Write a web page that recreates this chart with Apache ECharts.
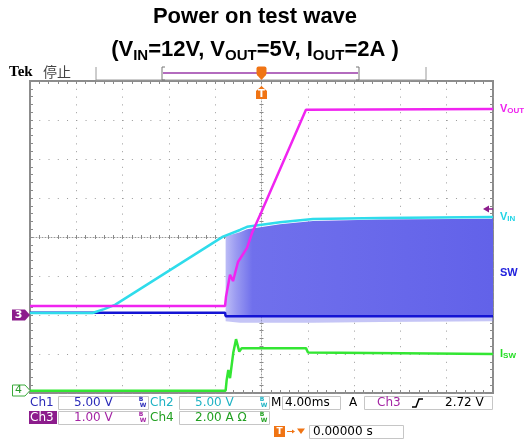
<!DOCTYPE html>
<html>
<head>
<meta charset="utf-8">
<script src="https://cdn.jsdelivr.net/npm/echarts@6/dist/echarts.min.js"></script>
<style>
html, body { margin: 0; padding: 0; background: #fff; }
#main { width: 524px; height: 441px; }
</style>
</head>
<body>
<div id="main"></div>
<script>
// x: time in ms (4 ms/div, trigger at 0), y: screen divisions from the bottom (0..8)
const timeMin = -20
const timeMax = 20
const timeStep = 4
const divMin = 0
const divMax = 8

// Ch3 - Vout (magenta)
const vout = [
  [-20, 2.23], [-3.15, 2.23], [-3.07, 2.46], [-2.72, 3.03], [-2.46, 2.87],
  [-2.03, 3.36], [-1.25, 3.72], [-0.82, 4.1], [0, 4.65], [3.84, 7.26], [20, 7.28],
]
// Ch2 - Vin (cyan)
const vin = [
  [-20, 2.05], [-14.6, 2.05], [-13.6, 2.15], [-12.66, 2.26], [-3.33, 4.01],
  [-1.86, 4.18], [-1.25, 4.26], [1.6, 4.38], [4.45, 4.46], [10.24, 4.49], [20, 4.51],
]
// Ch1 - SW node: low level line and switching envelope
const swLine = [[-20, 2.06], [-3.15, 2.06], [-3.1, 1.97], [20, 1.97]]
const bandTime = [-3.1, -1.86, -1.25, 1.6, 4.45, 10.24, 20]
const bandTop = [4.02, 4.12, 4.2, 4.33, 4.41, 4.45, 4.47]
const bandLow = [1.97, 1.97, 1.97, 1.97, 1.97, 1.97, 1.97]
const spikeLow = [1.84, 1.8, 1.8, 1.8, 1.8, 1.82, 1.84]
// Ch4 - Isw (green)
const isw = [
  [-20, 0.06], [-3.1, 0.06], [-3.01, 0.33], [-2.87, 0.59], [-2.72, 0.38],
  [-2.44, 1.03], [-2.2, 1.38], [-1.92, 1.06], [-1.71, 1.15], [3.84, 1.15],
  [4.02, 1.04], [20, 1.0],
]

const chart = echarts.init(document.getElementById('main'))

const tickColor = '#8a8a8a'

function xAxisAt(position, offset, opts) {
  return Object.assign({
    type: 'value', min: timeMin, max: timeMax, interval: timeStep,
    position: position, offset: offset,
    axisLabel: { show: false },
    axisLine: { show: false, onZero: false },
    axisTick: { inside: true, length: 3, lineStyle: { color: tickColor } },
    minorTick: { show: true, splitNumber: 5, length: 3, lineStyle: { color: tickColor } },
    splitLine: { show: false },
  }, opts)
}

function yAxisAt(position, offset, opts) {
  return Object.assign({
    type: 'value', min: divMin, max: divMax, interval: 1,
    position: position, offset: offset,
    axisLabel: { show: false },
    axisLine: { show: false, onZero: false },
    axisTick: { inside: true, length: 3, lineStyle: { color: tickColor } },
    minorTick: { show: true, splitNumber: 5, length: 3, lineStyle: { color: tickColor } },
    splitLine: { show: false },
  }, opts)
}

const centerTick = { inside: true, length: 2, lineStyle: { color: tickColor } }
const centerMinor = { show: true, splitNumber: 5, length: 2, lineStyle: { color: tickColor } }

// ---- overlay texts and scope chrome ----
const G = []
function txt(x, y, s, font, color, align) {
  G.push({
    type: 'text', x: x, y: y, z: 50,
    style: { text: s, font: font, fill: color, align: align || 'left', textAlign: align || 'left', verticalAlign: 'middle', textVerticalAlign: 'middle' },
  })
}
function box(x, y, w, h) {
  G.push({ type: 'rect', z: 50, shape: { x: x, y: y, width: w, height: h }, style: { fill: 'none', stroke: '#c6c6c6', lineWidth: 1 } })
}
function line(x1, y1, x2, y2, color, w) {
  G.push({ type: 'line', z: 50, shape: { x1: x1, y1: y1, x2: x2, y2: y2 }, style: { stroke: color, lineWidth: w || 1 } })
}
function poly(points, fill, stroke) {
  G.push({ type: 'polygon', z: 50, shape: { points: points }, style: { fill: fill, stroke: stroke || 'none', lineWidth: 1 } })
}
function bw(x, y, color) {
  txt(x, y - 3, 'B', 'bold 6px "DejaVu Sans"', color, 'center')
  txt(x + 2, y + 3, 'W', 'bold 6px "DejaVu Sans"', color, 'center')
}

// titles
txt(255, 17, 'Power on test wave', 'bold 22px "Liberation Sans"', '#000', 'center')
G.push({
  type: 'text', x: 255, y: 50, z: 50,
  style: {
    text: '{m|(V}{s|IN}{m|=12V, V}{s|OUT}{m|=5V, I}{s|OUT}{m|=2A )}',
    align: 'center', textAlign: 'center', verticalAlign: 'middle', textVerticalAlign: 'middle',
    rich: {
      m: { font: 'bold 22px "Liberation Sans"', fill: '#000', color: '#000', lineHeight: 26 },
      s: { font: 'bold 15px "Liberation Sans"', fill: '#000', color: '#000', lineHeight: 12, verticalAlign: 'bottom' },
    },
  },
})

// Tek header and record bar
txt(9, 72, 'Tek', 'bold 15px "Liberation Serif"', '#000')
txt(43, 72, '停止', '14px "Noto Sans CJK SC"', '#444')
line(96, 80, 426, 80, '#9a9a9a', 1)
line(96, 67, 96, 80, '#9a9a9a', 1)
line(426, 67, 426, 80, '#9a9a9a', 1)
line(162, 67, 162, 80, '#777', 1)
line(162, 67, 165, 67, '#777', 1)
line(162, 80, 165, 80, '#777', 1)
line(359, 67, 359, 80, '#777', 1)
line(356, 67, 359, 67, '#777', 1)
line(356, 80, 359, 80, '#777', 1)
line(163, 73, 358, 73, '#9a3aa8', 1.5)

// trigger position markers
const orange = '#f07414'
G.push({ type: 'rect', z: 51, shape: { x: 256.5, y: 66.5, width: 10, height: 9, r: 2 }, style: { fill: orange } })
poly([[257, 75], [266, 75], [261.5, 80]], orange)
txt(261.5, 71, 'T', 'bold 9px "DejaVu Sans"', '#fff', 'center')
poly([[256, 91], [261.5, 86], [267, 91], [267, 99], [256, 99]], orange)
txt(261.5, 94, 'T', 'bold 10px "DejaVu Sans"', '#fff', 'center')

// ground markers on the left
poly([[12, 309.5], [25, 309.5], [30, 315], [25, 320.5], [12, 320.5]], '#8c1c8c')
txt(18.5, 315, '3', 'bold 11px "DejaVu Sans"', '#fff', 'center')
poly([[12.5, 385], [25, 385], [30, 390.5], [25, 396], [12.5, 396]], '#fff', '#3aaa3a')
txt(18.5, 390.5, '4', '11px "DejaVu Sans"', '#2a9a2a', 'center')

// trigger level arrow on the right
poly([[483, 209], [489, 205.5], [489, 212.5]], '#8c1c8c')
line(488, 209, 493, 209, '#8c1c8c', 1.5)

// SW label
txt(500, 273, 'SW', 'bold 11px "Liberation Sans"', '#2222dd')

// readout rows
const c1 = '#2a2ab8', c2 = '#1fb3c4', c3 = '#a424a4', c4 = '#22a022'
const rf = '12px "DejaVu Sans"'
txt(30, 402.5, 'Ch1', rf, c1)
box(58.5, 396.5, 90, 13)
txt(74, 402.5, '5.00 V', rf, c1)
bw(141, 402.5, c1)
txt(150, 402.5, 'Ch2', rf, c2)
box(179.5, 396.5, 90, 13)
txt(195, 402.5, '5.00 V', rf, c2)
bw(262, 402.5, c2)
txt(271, 402.5, 'M', rf, '#000')
box(282.5, 396.5, 58, 13)
txt(285, 402.5, '4.00ms', rf, '#000')
txt(349, 402.5, 'A', rf, '#000')
box(364.5, 396.5, 128, 13)
txt(377, 402.5, 'Ch3', rf, c3)
G.push({ type: 'polyline', z: 50, shape: { points: [[412, 407], [416, 407], [419, 399], [423, 399]] }, style: { stroke: '#000', lineWidth: 1.5, fill: 'none' } })
txt(445, 402.5, '2.72 V', rf, '#000')

G.push({ type: 'rect', z: 50, shape: { x: 29, y: 411, width: 28, height: 13 }, style: { fill: '#8c1c8c' } })
txt(30, 417.5, 'Ch3', rf, '#fff')
box(58.5, 411.5, 90, 13)
txt(74, 417.5, '1.00 V', rf, c3)
bw(141, 417.5, c3)
txt(150, 417.5, 'Ch4', rf, c4)
box(179.5, 411.5, 90, 13)
txt(195, 417.5, '2.00 A Ω', rf, c4)
bw(262, 417.5, c4)

G.push({ type: 'rect', z: 50, shape: { x: 274, y: 426, width: 11, height: 11 }, style: { fill: orange } })
txt(279.5, 431.5, 'T', 'bold 9px "DejaVu Sans"', '#fff', 'center')
line(287, 431.5, 294, 431.5, orange, 1)
poly([[292, 429.5], [295, 431.5], [292, 433.5]], orange)
poly([[297, 428.5], [305, 428.5], [301, 434]], orange)
box(309.5, 425.5, 94, 13)
txt(313, 432, '0.00000 s', rf, '#000')

const subRich = (color) => ({
  a: { fontSize: 11, fontWeight: 'bold', color: color, fontFamily: 'Liberation Sans' },
  b: { fontSize: 8, fontWeight: 'bold', color: color, fontFamily: 'Liberation Sans', padding: [4, 0, 0, 0] },
})

// switching band drawn as one polygon between two envelopes
function bandRenderer(upper, lower, fill) {
  return function (params, api) {
    if (params.dataIndex !== 0) return
    const pts = []
    for (let i = 0; i < bandTime.length; i++) pts.push(api.coord([bandTime[i], upper[i]]))
    for (let i = bandTime.length - 1; i >= 0; i--) pts.push(api.coord([bandTime[i], lower[i]]))
    return { type: 'polygon', shape: { points: pts }, style: { fill: fill } }
  }
}

chart.setOption({
  animation: false,
  backgroundColor: '#fff',
  grid: { left: 30, right: 31, top: 81, bottom: 48, show: true, borderColor: '#8c8c8c', borderWidth: 2, backgroundColor: 'transparent' },
  xAxis: [
    xAxisAt('bottom', 0, { splitLine: { show: true, lineStyle: { color: '#9a9a9a', type: [1, 6.8] } } }),
    xAxisAt('top', 0),
    xAxisAt('bottom', -156, { axisLine: { show: true, onZero: false, lineStyle: { color: '#9a9a9a', type: [1, 2] } }, axisTick: centerTick, minorTick: centerMinor }),
    xAxisAt('top', -156, { axisTick: centerTick, minorTick: centerMinor }),
  ],
  yAxis: [
    yAxisAt('left', 0, { splitLine: { show: true, lineStyle: { color: '#9a9a9a', type: [1, 8.26] } } }),
    yAxisAt('right', 0),
    yAxisAt('left', -231.5, { axisLine: { show: true, onZero: false, lineStyle: { color: '#9a9a9a', type: [1, 2] } }, axisTick: centerTick, minorTick: centerMinor }),
    yAxisAt('right', -231.5, { axisTick: centerTick, minorTick: centerMinor }),
  ],
  graphic: G,
  series: [
    {
      name: 'SW spikes', type: 'custom', z: 1,
      data: bandTime.map((t, i) => [t, spikeLow[i], bandLow[i]]),
      encode: { x: 0, y: [1, 2] },
      renderItem: bandRenderer(bandLow, spikeLow, 'rgba(140,140,238,0.5)'),
    },
    {
      name: 'SW', type: 'custom', z: 2,
      data: bandTime.map((t, i) => [t, bandLow[i], bandTop[i]]),
      encode: { x: 0, y: [1, 2] },
      renderItem: bandRenderer(bandTop, bandLow, new echarts.graphic.LinearGradient(0, 0, 1, 0, [
        { offset: 0, color: '#bcbcf6' },
        { offset: 0.04, color: '#9a9af1' },
        { offset: 0.1, color: '#7070ec' },
        { offset: 1, color: '#6262e9' },
      ])),
    },
    {
      name: 'SW line', type: 'line', symbol: 'none', z: 3, data: swLine,
      lineStyle: { color: '#1414d4', width: 2.5 },
    },
    {
      name: 'Isw', type: 'line', symbol: 'none', z: 4, data: isw,
      lineStyle: { color: '#33e633', width: 2.5 },
      endLabel: { show: true, distance: 7, formatter: '{a|I}{b|SW}', rich: subRich('#22dd22') },
    },
    {
      name: 'Vin', type: 'line', symbol: 'none', z: 5, data: vin,
      lineStyle: { color: '#2fdceb', width: 2.5 },
      endLabel: { show: true, distance: 7, formatter: '{a|V}{b|IN}', rich: subRich('#22d4e6') },
    },
    {
      name: 'Vout', type: 'line', symbol: 'none', z: 6, data: vout,
      lineStyle: { color: '#f024f0', width: 2.5 },
      endLabel: { show: true, distance: 7, formatter: '{a|V}{b|OUT}', rich: subRich('#ee22ee') },
    },
  ],
})
</script>
</body>
</html>
